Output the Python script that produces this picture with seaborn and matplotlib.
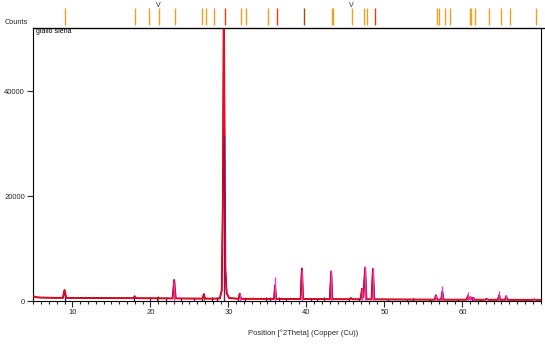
import matplotlib
matplotlib.use("Agg")
import matplotlib.pyplot as plt
from matplotlib.lines import Line2D
from matplotlib.ticker import MultipleLocator, FixedLocator
import seaborn as sns
import pandas as pd

# ---------------- data ----------------
scan_2theta = [5.0, 5.3, 6.0, 8.0, 8.8, 9.0, 9.2, 10.0, 12.0, 16.0, 17.85, 18.0, 18.15,
               20.0, 20.9, 21.0, 21.1, 22.85, 23.06, 23.25, 25.0, 26.7, 26.85, 27.0,
               28.0, 28.9, 29.15, 29.3, 29.42, 29.52, 29.62, 29.78, 30.1, 31.3, 31.45,
               31.6, 35.0, 35.85, 35.98, 36.12, 39.25, 39.42, 39.58, 43.0, 43.17, 43.33,
               45.5, 45.7, 45.9, 46.95, 47.12, 47.3, 47.52, 47.7, 48.35, 48.52, 48.7,
               50.0, 55.0, 56.45, 56.6, 56.75, 57.27, 57.42, 57.57, 60.0, 60.55, 60.7,
               60.88, 61.05, 61.22, 61.4, 61.55, 62.95, 63.1, 63.25, 64.55, 64.7, 64.85,
               65.45, 65.6, 65.75, 69.05, 69.2, 69.35, 70.0]
scan_counts = [950, 720, 650, 600, 600, 2100, 600, 590, 570, 550, 540, 900, 535,
               520, 510, 650, 505, 490, 4000, 490, 470, 460, 1300, 460,
               450, 480, 2000, 20000, 60000, 28000, 6000, 1500, 550, 430, 1400,
               430, 400, 400, 3000, 400, 380, 6200, 380, 350, 5600, 350,
               330, 550, 330, 320, 2300, 700, 6300, 320, 310, 6100, 310,
               300, 270, 260, 1100, 260, 260, 1800, 260, 250, 250, 1000,
               400, 700, 400, 650, 250, 240, 450, 240, 235, 1100, 235,
               230, 900, 230, 220, 300, 220, 220]

# reference sticks in the main plot
calcite_pos = [23.06, 31.45, 35.98, 39.42, 43.17, 47.12, 47.52, 48.52, 56.6, 57.42,
               60.7, 61.0, 61.4, 63.1, 64.7, 65.6, 69.2]
calcite_int = [3700, 1300, 4500, 6000, 5900, 2300, 6650, 6350, 1100, 2860,
               1780, 900, 800, 500, 1900, 1140, 300]
main_pos = [29.42]
main_int = [31600]
blue_pos = [9.0, 17.95, 19.9, 20.85, 22.0, 23.9, 25.6, 26.6, 27.9, 28.6, 31.2, 32.1,
            34.8, 35.3, 36.5, 37.4, 40.6, 41.3, 42.3, 45.5, 46.7, 50.5, 52.9, 53.7,
            55.9, 59.4, 61.2, 62.3, 66.6, 68.1]
blue_int = [1800, 1000, 700, 800, 700, 600, 600, 700, 800, 700, 700, 600,
            700, 800, 700, 600, 600, 600, 700, 500, 500, 400, 400, 500,
            400, 400, 500, 400, 400, 300]
green_pos = [21.0, 26.9]
green_int = [900, 1600]

# peak-list markers in the top strip
strip_orange = [9.0, 18.08, 19.87, 21.07, 23.22, 26.67, 27.12, 28.1, 31.6, 32.27, 35.1,
                43.3, 43.4, 45.78, 47.38, 47.8, 56.8, 56.95, 57.77, 58.35, 61.0, 61.1,
                61.66, 63.35, 65.0, 66.03, 69.47]
strip_red = [29.58, 36.21, 48.82]
strip_dark = [39.64]
v_marks = [21.07, 45.78]

x_ticks = [10, 20, 30, 40, 50, 60]
y_ticks = [0, 20000, 40000]
x_label = "Position [°2Theta] (Copper (Cu))"
sample_name = "giallo siena"

# ---------------- figure ----------------
sns.set_style("ticks")
plt.rcParams['font.family'] = ['Liberation Sans', 'DejaVu Sans']

W, H = 545, 345
fig = plt.figure(figsize=(W / 100, H / 100), dpi=100)
fig.patch.set_facecolor("white")

L, R, B, T = 33.3, 540.5, 301.0, 27.5
ax = fig.add_axes([L / W, 1 - B / H, (R - L) / W, (B - T) / H])
ax.set_facecolor("white")

df = pd.DataFrame({"two_theta": scan_2theta, "counts": scan_counts})

# reference sticks
ax.vlines(blue_pos, 0, blue_int, color="#1010a0", lw=0.9, zorder=2)
ax.vlines(green_pos, 0, green_int, color="#30c030", lw=0.9, zorder=2)

# scan line (dark outline + red)
sns.lineplot(data=df, x="two_theta", y="counts", ax=ax, color="#7a0010",
             lw=1.3, legend=False, zorder=3, sort=False)
sns.lineplot(data=df, x="two_theta", y="counts", ax=ax, color="#ff0022",
             lw=0.9, legend=False, zorder=4, sort=False)

ax.vlines(calcite_pos, 0, calcite_int, color="#e040d0", lw=1.0, zorder=5)
ax.vlines(main_pos, 0, main_int, color="#8a1060", lw=1.0, zorder=5)

ax.set_xlim(5, 70)
ax.set_ylim(0, 52100)
ax.xaxis.set_major_locator(FixedLocator(x_ticks))
ax.xaxis.set_minor_locator(MultipleLocator(1))
ax.yaxis.set_major_locator(FixedLocator(y_ticks))
ax.set_xticklabels([str(v) for v in x_ticks])
ax.set_yticklabels([str(v) for v in y_ticks])
ax.tick_params(axis="x", which="major", length=4, width=0.8, labelsize=5.5, pad=2, direction="out")
ax.tick_params(axis="x", which="minor", length=2.4, width=0.8, direction="out")
ax.tick_params(axis="y", which="major", length=4, width=0.8, labelsize=5.5, pad=2, direction="out")
ax.set_xlabel("")
ax.set_ylabel("")
for s in ax.spines.values():
    s.set_color("black")
    s.set_linewidth(0.8)

ax.text(0.006, 0.997, sample_name, transform=ax.transAxes, ha="left", va="top",
        fontsize=5.0, color="black")

fig.text(303 / W, 1 - 333 / H, x_label, ha="center", va="center", fontsize=5.5)
fig.text(5 / W, 1 - 23 / H, "Counts", ha="left", va="center", fontsize=5.3)

# top strip with peak markers
sx = fig.add_axes([L / W, 1 - T / H, (R - L) / W, T / H])
sx.set_xlim(5, 70)
sx.set_ylim(0, 1)
sx.axis("off")
y0, y1 = 3 / T, (T - 8) / T
sx.vlines(strip_orange, y0, y1, color="#f0a020", lw=1.0)
sx.vlines(strip_red, y0, y1, color="#e04010", lw=1.0)
sx.vlines(strip_dark, y0, y1, color="#a05000", lw=1.0)
for v in v_marks:
    sx.text(v, (T - 5.5) / T, "V", ha="center", va="center", fontsize=5.0)
fig.add_artist(Line2D([L / W, 1.0], [1 - T / H, 1 - T / H], color="black", lw=0.9))

fig.savefig("out.png", dpi=100)
